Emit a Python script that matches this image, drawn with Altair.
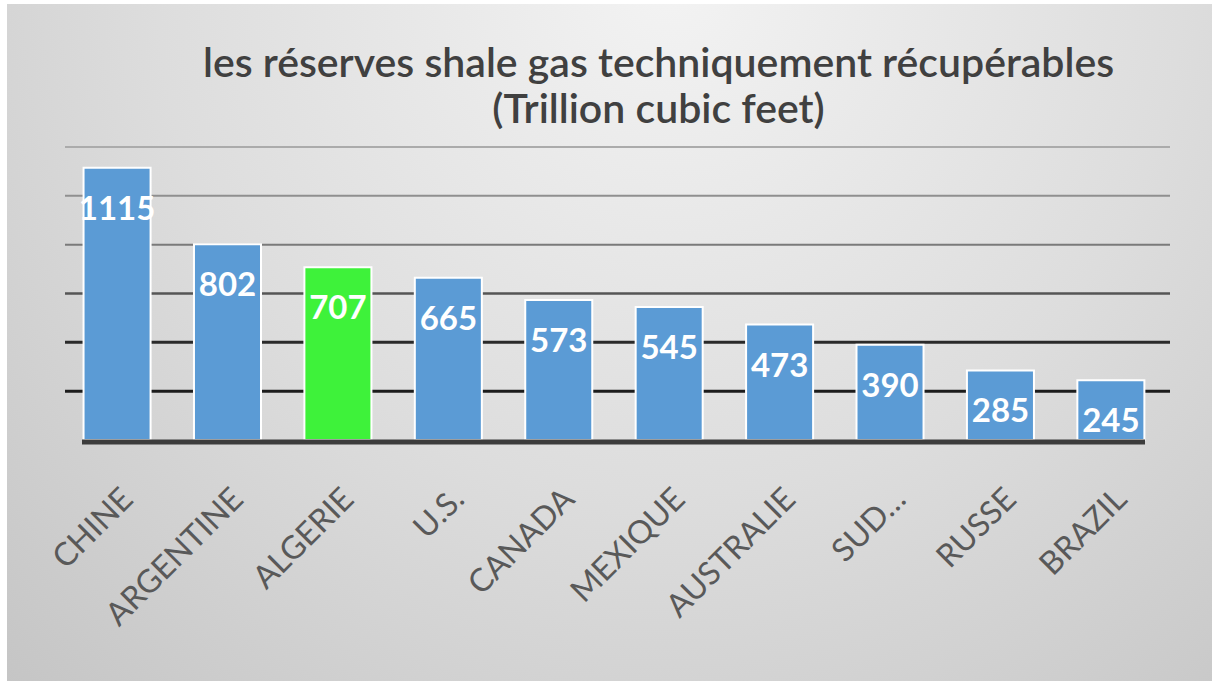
import altair as alt
import pandas as pd

countries = ["CHINE", "ARGENTINE", "ALGERIE", "U.S.", "CANADA", "MEXIQUE",
             "AUSTRALIE", "SUD…", "RUSSE", "BRAZIL"]
reserves = [1115, 802, 707, 665, 573, 545, 473, 390, 285, 245]
bar_colors = ["#5b9bd5", "#5b9bd5", "#3ef23a", "#5b9bd5", "#5b9bd5", "#5b9bd5",
              "#5b9bd5", "#5b9bd5", "#5b9bd5", "#5b9bd5"]

grid_values = [200, 400, 600, 800, 1000, 1200]
grid_colors = ["#1c1c1c", "#2a2a2a", "#555555", "#7a7a7a", "#8f8f8f", "#ababab"]
grid_widths = [3, 3, 2.5, 2, 2, 2]

df = pd.DataFrame({"pays": countries, "valeur": reserves, "couleur": bar_colors})
grid_df = pd.DataFrame({"v": grid_values, "c": grid_colors, "w": grid_widths})

W, H = 1105, 293

xscale = alt.Scale(domain=countries, paddingInner=0.393, paddingOuter=0.2, align=0.42)
yscale = alt.Scale(domain=[0, 1200], nice=False)

bg = alt.Chart(pd.DataFrame({"a": [0]})).mark_rect(
    fill=alt.Gradient(
        gradient="radial",
        x1=0.55, y1=0.2, r1=0.0,
        x2=0.55, y2=0.2, r2=0.85,
        stops=[alt.GradientStop(offset=0, color="#f3f3f3"),
               alt.GradientStop(offset=0.5, color="#dddddd"),
               alt.GradientStop(offset=1, color="#c2c2c2")],
    )
).encode(x=alt.value(-58), x2=alt.value(1147), y=alt.value(-143), y2=alt.value(534))

grid = alt.Chart(grid_df).mark_rule().encode(
    y=alt.Y("v:Q", scale=yscale, axis=None),
    x=alt.value(0), x2=alt.value(W),
    color=alt.Color("c:N", scale=None),
    strokeWidth=alt.StrokeWidth("w:Q", scale=None),
)

xaxis = alt.Axis(title=None, labelAngle=-45, labelFontSize=32,
                 labelColor="#595959", labelFont="Lato", domain=False,
                 ticks=False, labelPadding=43, grid=False, zindex=2,
                 labelOverlap=False)

bars = alt.Chart(df).mark_bar(stroke="white", strokeWidth=2).encode(
    x=alt.X("pays:N", scale=xscale, sort=countries, axis=xaxis),
    y=alt.Y("valeur:Q", scale=yscale, axis=None),
    color=alt.Color("couleur:N", scale=None),
)

baseline = alt.Chart(pd.DataFrame({"a": [0]})).mark_rule(
    color="#3c3c3c", strokeWidth=5
).encode(x=alt.value(17), x2=alt.value(1080), y=alt.value(H + 2))

labels = alt.Chart(df).mark_text(
    dy=42, color="white", fontWeight="bold", fontSize=33, font="Lato", baseline="middle"
).encode(
    x=alt.X("pays:N", scale=xscale, sort=countries, axis=xaxis),
    y=alt.Y("valeur:Q", scale=yscale, axis=None),
    text=alt.Text("valeur:Q"),
)

chart = alt.layer(bg, grid, bars, baseline, labels).properties(
    width=W, height=H,
    autosize=alt.AutoSizeParams(type="none"),
    padding={"left": 65, "top": 147, "right": 51, "bottom": 241},
    background="white",
    title=alt.TitleParams(
        text=["les réserves  shale gas techniquement récupérables", "(Trillion cubic feet)"],
        font="Lato", fontSize=41, fontWeight=600, color="#404040",
        anchor="middle", dx=41, offset=-128, lineHeight=46,
    ),
).configure_view(stroke=None)

chart.save("out.html", embed_options={"renderer": "svg", "actions": False})
